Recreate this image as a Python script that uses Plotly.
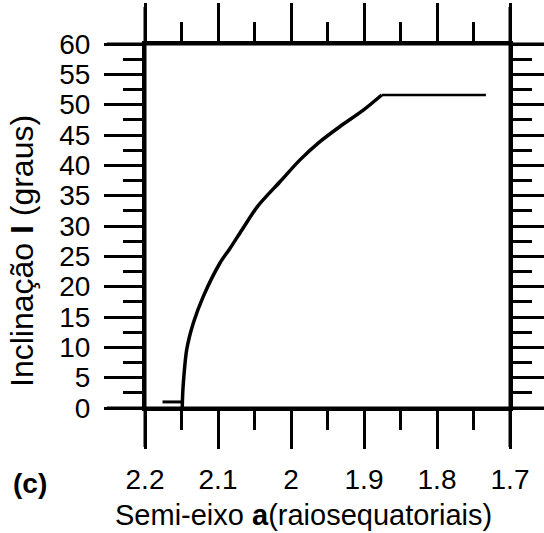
import plotly.graph_objects as go

# ---- data ----
a_curve = [2.149, 2.1485, 2.1475, 2.1429, 2.1338, 2.1201, 2.0973, 2.0836, 2.0675,
           2.046, 2.0151, 1.9877, 1.9603, 1.9329, 1.901, 1.8758]
i_curve = [0.0, 2.0, 4.1, 9.6, 14.0, 18.4, 23.9, 26.3, 29.3,
           33.2, 37.3, 40.9, 43.9, 46.4, 49.1, 51.6]
a_low = [2.176, 2.149]
i_low = [1.0, 1.0]
a_flat = [1.8758, 1.733]
i_flat = [51.6, 51.6]

x_ticks = [2.2, 2.1, 2.0, 1.9, 1.8, 1.7]
x_ticklabels = ["2.2", "2.1", "2", "1.9", "1.8", "1.7"]
x_minor = [2.15, 2.05, 1.95, 1.85, 1.75]
y_ticks = list(range(0, 61, 5))
y_ticklabels = [str(v) for v in y_ticks]
y_minor = [2.5 + 5 * k for k in range(12)]

FONT = "Liberation Sans, Arial, sans-serif"

fig = go.Figure()
fig.add_trace(go.Scatter(x=a_curve, y=i_curve, mode="lines",
                         line=dict(color="black", width=3.5, shape="spline", smoothing=0.8),
                         showlegend=False))
fig.add_trace(go.Scatter(x=a_low, y=i_low, mode="lines",
                         line=dict(color="black", width=3), showlegend=False))
fig.add_trace(go.Scatter(x=a_flat, y=i_flat, mode="lines",
                         line=dict(color="black", width=2.5), showlegend=False))

W, H = 544, 533
L, R, T, B = 145, 34, 44, 125
pw, ph = W - L - R, H - T - B
TL = 38
MTL = 19

axis_common = dict(
    showgrid=False, zeroline=False, showline=True, linecolor="black", linewidth=3,
    ticks="outside", ticklen=TL, tickwidth=3, tickcolor="black", mirror="ticks",
    automargin=False,
    tickfont=dict(family=FONT, size=28, color="black"),
)

fig.update_xaxes(range=[2.2, 1.7], tickmode="array", tickvals=x_ticks,
                 ticktext=x_ticklabels, ticklabelstandoff=6,
                 minor=dict(tickvals=x_minor, ticks="outside", ticklen=MTL,
                            tickwidth=3, tickcolor="black"),
                 **axis_common)
fig.update_yaxes(range=[0, 60], tickmode="array", tickvals=y_ticks,
                 ticktext=y_ticklabels, ticklabelstandoff=8,
                 minor=dict(tickvals=y_minor, ticks="outside", ticklen=MTL,
                            tickwidth=3, tickcolor="black"),
                 **axis_common)

# extended frame lines
ex = TL / pw
ey_b = 39 / ph
ey_t = 37 / ph
line_style = dict(color="black", width=3)
shapes = [
    dict(type="line", xref="paper", yref="paper", x0=0, x1=0, y0=-ey_b, y1=1 + ey_t, line=line_style),
    dict(type="line", xref="paper", yref="paper", x0=1, x1=1, y0=-ey_b, y1=1 + ey_t, line=line_style),
    dict(type="line", xref="paper", yref="paper", x0=-ex, x1=1 + 0.15, y0=0, y1=0, line=line_style),
    dict(type="line", xref="paper", yref="paper", x0=-ex, x1=1 + 0.15, y0=1, y1=1, line=line_style),
]

def px_x(p):
    return (p - L) / pw

def px_y(p):
    return (H - B - p) / ph

annotations = [
    dict(text="Semi-eixo <b>a</b>(raiosequatoriais)", xref="paper", yref="paper",
         x=px_x(303), y=px_y(515), xanchor="center", yanchor="middle", showarrow=False,
         font=dict(family=FONT, size=29, color="black")),
    dict(text="Inclinação <b>I</b> (graus)", xref="paper", yref="paper",
         x=px_x(22), y=px_y(251), xanchor="center", yanchor="middle", showarrow=False,
         textangle=-90, font=dict(family=FONT, size=32, color="black")),
    dict(text="<b>(c)</b>", xref="paper", yref="paper",
         x=px_x(30), y=px_y(483), xanchor="center", yanchor="middle", showarrow=False,
         font=dict(family=FONT, size=28, color="black")),
]

fig.update_layout(width=W, height=H, margin=dict(l=L, r=R, t=T, b=B, pad=0),
                  paper_bgcolor="white", plot_bgcolor="white",
                  shapes=shapes, annotations=annotations)

fig.write_html("out.html")
